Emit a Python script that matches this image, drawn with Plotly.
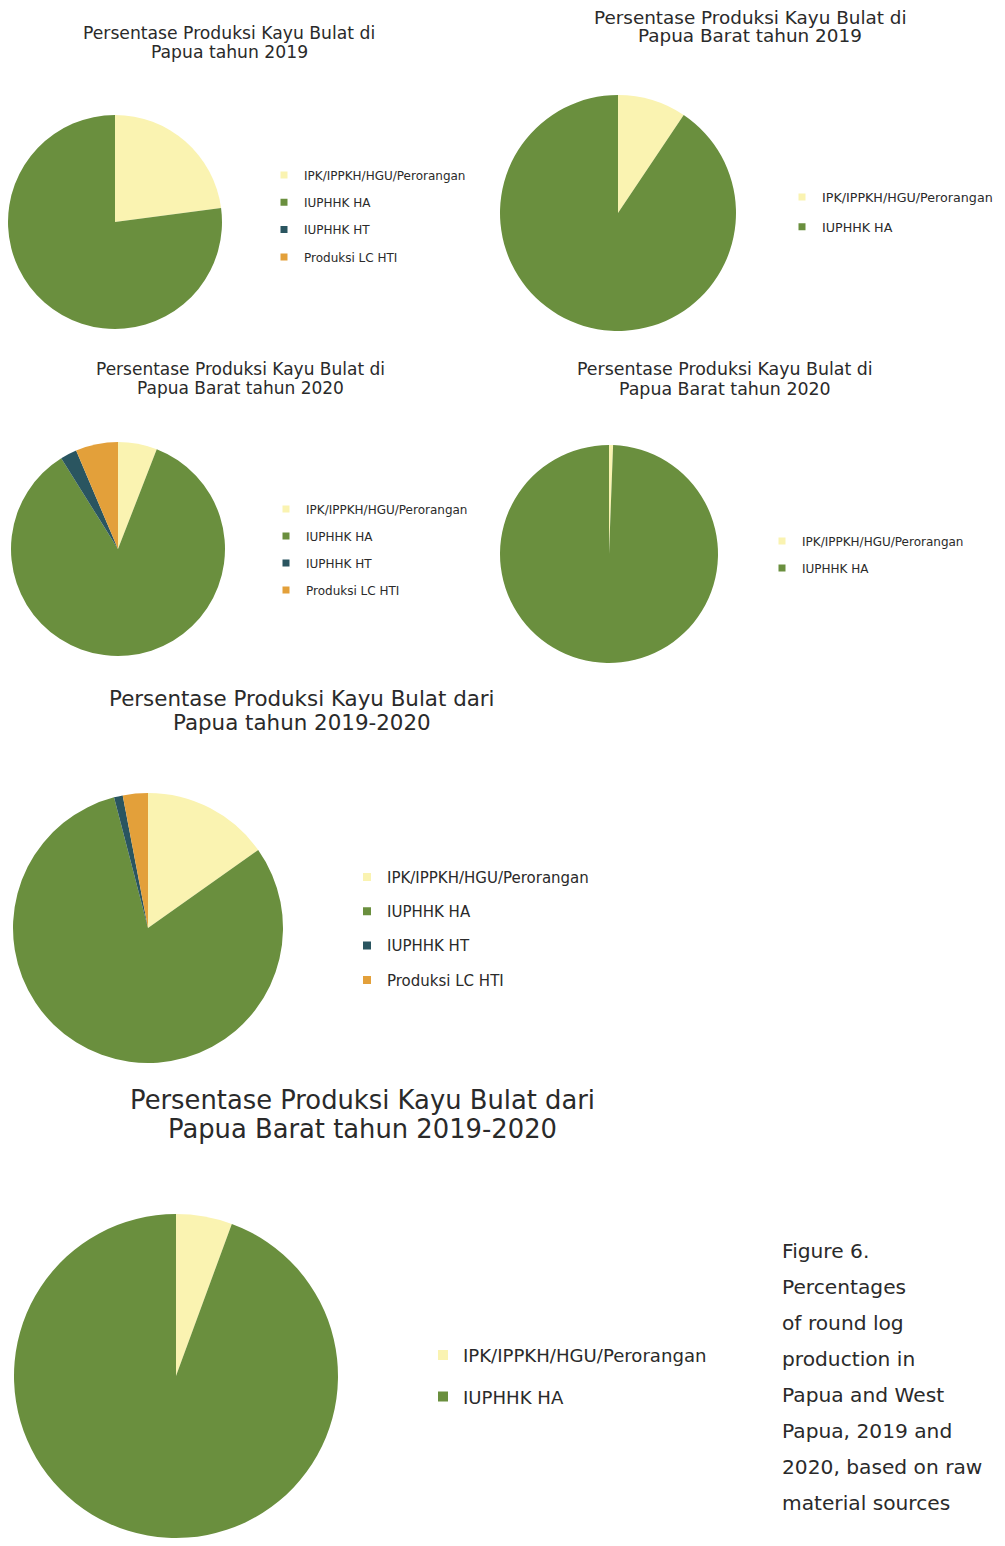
import plotly.graph_objects as go

W, H = 1005, 1546
OFF = 8  # page body margin

# ---------------- data ----------------
categories_full = ["IPK/IPPKH/HGU/Perorangan", "IUPHHK HA", "IUPHHK HT", "Produksi LC HTI"]
categories_two = ["IPK/IPPKH/HGU/Perorangan", "IUPHHK HA"]

papua_2019 = [22.9, 77.1, 0.0, 0.0]
papua_barat_2019 = [9.4, 90.6]
papua_barat_2020_a = [5.9, 85.2, 2.5, 6.4]
papua_barat_2020_b = [0.6, 99.4]
papua_2019_2020 = [15.2, 80.75, 1.05, 3.0]
papua_barat_2019_2020 = [5.6, 94.4]

titles = [
    ["Persentase Produksi Kayu Bulat di", "Papua tahun 2019"],
    ["Persentase Produksi Kayu Bulat di", "Papua Barat tahun 2019"],
    ["Persentase Produksi Kayu Bulat di", "Papua Barat tahun 2020"],
    ["Persentase Produksi Kayu Bulat di", "Papua Barat tahun 2020"],
    ["Persentase Produksi Kayu Bulat dari", "Papua tahun 2019-2020"],
    ["Persentase Produksi Kayu Bulat dari", "Papua Barat tahun 2019-2020"],
]

caption_lines = ["Figure 6.", "Percentages", "of round log", "production in",
                 "Papua and West", "Papua, 2019 and", "2020, based on raw",
                 "material sources"]

colors = ["#FAF3B1", "#6A8F3E", "#2A5560", "#E3A03A"]
FONT = "DejaVu Sans"
TXT = "#2a2a2a"

# ---------------- layout specs (page pixels) ----------------
pies = [
    dict(labels=categories_full, values=papua_2019, box=(8, 114, 222, 330)),
    dict(labels=categories_two, values=papua_barat_2019, box=(500, 95, 736, 331)),
    dict(labels=categories_full, values=papua_barat_2020_a, box=(11, 442, 225, 656)),
    dict(labels=categories_two, values=papua_barat_2020_b, box=(500, 445, 718, 663)),
    dict(labels=categories_full, values=papua_2019_2020, box=(13, 793, 283, 1063)),
    dict(labels=categories_two, values=papua_barat_2019_2020, box=(14, 1214, 338, 1538)),
]
# title: (center x, line1 y, line2 y, font size)
title_pos = [(229, 33, 52, 17.2), (750, 18, 35, 18.4), (240, 369, 388, 17.0),
             (725, 369, 389, 17.4), (302, 699, 723, 21.4), (362, 1100, 1129, 25.8)]
# legend: (text x, first item centre y, font size, gap, marker size)
legend_pos = [(304, 175, 12, 8.3, 7), (822, 197, 12.7, 10.3, 7), (306, 509, 12, 8, 7),
              (802, 541, 12, 8, 7), (387, 877, 15, 11.8, 8), (463, 1355, 18.1, 15, 10)]


def px_x(x):
    return min(1.0, max(0.0, (x - OFF) / W))


def px_y(y):
    return min(1.0, max(0.0, 1 - (y - OFF) / H))


fig = go.Figure()
layout_legends = {}
annotations = []

for k, (p, tp, lp) in enumerate(zip(pies, title_pos, legend_pos)):
    x0, y0, x1, y1 = p["box"]
    n = len(p["labels"])
    fig.add_trace(go.Pie(
        labels=p["labels"], values=p["values"], sort=False, direction="clockwise",
        rotation=0, marker=dict(colors=colors[:n], line=dict(width=0)),
        textinfo="none", showlegend=False, hoverinfo="label+percent",
        domain=dict(x=[px_x(x0), px_x(x1)], y=[px_y(y1), px_y(y0)]),
    ))
    lname = "legend" if k == 0 else f"legend{k + 1}"
    for i, lab in enumerate(p["labels"]):
        fig.add_trace(go.Scatter(
            x=[None], y=[None], mode="markers", name=lab,
            marker=dict(symbol="square", size=lp[4], color=colors[i]),
            legend=lname, legendgroup=f"g{k}_{i}", showlegend=True, hoverinfo="skip",
        ))
    tx, cy, fs, gap, ms = lp
    item_h = max(fs * 1.3, 16) + 3
    top = cy - item_h / 2 - 5
    layout_legends[lname] = dict(
        x=px_x(tx - 40), y=px_y(top), xanchor="left", yanchor="top",
        font=dict(family=FONT, size=fs, color=TXT), bgcolor="rgba(0,0,0,0)",
        traceorder="grouped", tracegroupgap=gap, itemsizing="trace",
    )
    cx, ly1, ly2, tfs = tp
    for line, ly in zip(titles[k], (ly1, ly2)):
        annotations.append(dict(
            text=line, x=px_x(cx), y=px_y(ly), xref="paper", yref="paper",
            xanchor="center", yanchor="middle", showarrow=False,
            font=dict(family=FONT, size=tfs, color=TXT),
        ))

for j, line in enumerate(caption_lines):
    annotations.append(dict(
        text=line, x=px_x(780), y=px_y(1251 + 36 * j), xref="paper", yref="paper",
        xanchor="left", yanchor="middle", showarrow=False,
        font=dict(family=FONT, size=20.2, color=TXT),
    ))

fig.update_layout(
    width=W, height=H, margin=dict(l=0, r=0, t=0, b=0),
    paper_bgcolor="white", plot_bgcolor="white",
    xaxis=dict(visible=False), yaxis=dict(visible=False),
    annotations=annotations, **layout_legends,
)

fig.write_html("out.html")
